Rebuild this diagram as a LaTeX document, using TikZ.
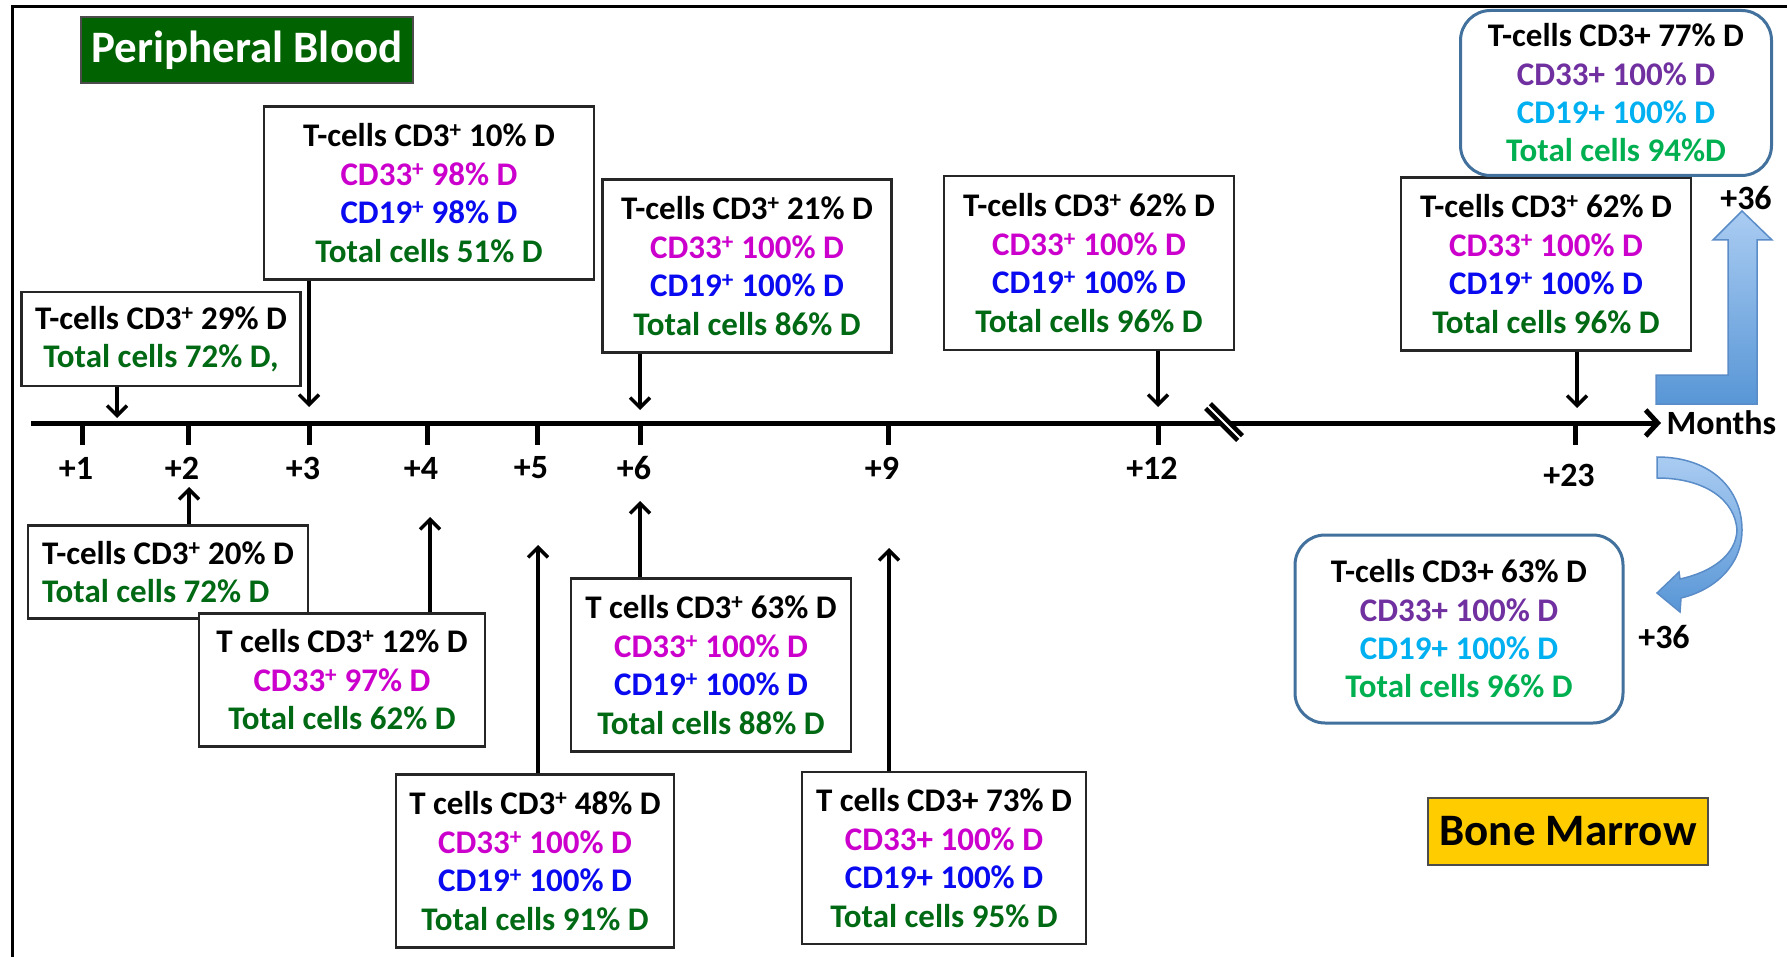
\documentclass[tikz,border=0pt]{standalone}
\usepackage{fontspec}
\setmainfont{Carlito}
\usetikzlibrary{positioning}
\usetikzlibrary{arrows.meta}
\definecolor{cdmag}{RGB}{204,0,204}
\definecolor{cdblu}{RGB}{10,10,240}
\definecolor{cdgrn}{RGB}{0,105,20}
\definecolor{cdpur}{RGB}{112,48,160}
\definecolor{cdcya}{RGB}{0,176,240}
\definecolor{cdlgr}{RGB}{0,176,80}
\definecolor{bmline}{RGB}{65,113,156}
\definecolor{pbfill}{RGB}{0,98,0}
\definecolor{bmfill}{RGB}{255,204,0}
\definecolor{arrtop}{RGB}{170,204,242}
\definecolor{arrbot}{RGB}{88,150,214}
\definecolor{arrline}{RGB}{90,140,200}
\tikzset{
    cellbox/.style = {rectangle, draw=black!85, line width=2.5pt, fill=white, inner sep=0pt, align=center, font=\fontsize{33}{38.5}\selectfont\bfseries},
    bmbox/.style = {rectangle, rounded corners=30pt, draw=bmline, line width=3pt, fill=white, inner sep=0pt, align=center, font=\fontsize{33}{38.3}\selectfont\bfseries},
    tagbox/.style = {rectangle, draw=black!70, line width=2pt, inner sep=0pt, font=\fontsize{45}{50}\selectfont\bfseries},
    ptr/.style = {line width=3.5pt, -{Straight Barb[length=10pt,width=20pt]}},
    timeaxis/.style = {line width=5pt, -{Straight Barb[length=12pt,width=26pt]}},
    tickmark/.style = {line width=5pt},
    ticklbl/.style = {font=\fontsize{34}{38}\selectfont\bfseries},
    blockarr/.style = {top color=arrtop, bottom color=arrbot, draw=arrline, line width=1.5pt}
}
\newcommand{\pl}{\textsuperscript{+}}
\newcommand{\cMag}[1]{\textcolor{cdmag}{#1}}
\newcommand{\cBlu}[1]{\textcolor{cdblu}{#1}}
\newcommand{\cGrn}[1]{\textcolor{cdgrn}{#1}}
\newcommand{\cPur}[1]{\textcolor{cdpur}{#1}}
\newcommand{\cCya}[1]{\textcolor{cdcya}{#1}}
\newcommand{\cLgr}[1]{\textcolor{cdlgr}{#1}}
\begin{document}
\begin{tikzpicture}[x=1pt,y=-1pt]
\useasboundingbox (0,0) rectangle (1787,957);
\draw[line width=3pt] (12,957) -- (12,7) -- (1787,7);
% time axis
\coordinate (ax0) at (31,423);
\coordinate (ax1) at (1661,423);
\draw[timeaxis] (ax0) -- (ax1);
\node[ticklbl, anchor=west] at (1663,423) (months) {Months};
\foreach \x/\m/\y in {82/1/468, 188/2/468, 309/3/468, 427/4/468, 537/5/468, 640/6/468, 888/9/468, 1158/12/468, 1575/23/475}
{
    \draw[tickmark] (\x,423) -- (\x,445);
    \node[ticklbl] at (\x-6,\y) (lbl\m) {+\m};
}
\draw[line width=11pt] (1208,406) -- (1240,438);
\draw[white, line width=2pt] (1206,404) -- (1242,440);
% titles
\node[tagbox, fill=pbfill, text=white, minimum width=332, minimum height=66] at (247,50) (pblood) {Peripheral Blood};
\node[tagbox, fill=bmfill, minimum width=280, minimum height=67] at (1568,831) (bmarrow) {Bone Marrow};
% peripheral blood, above axis
\node[cellbox, minimum width=279, minimum height=94] at (161,339) (pb1) {T-cells CD3\pl{} 29\% D\\ \cGrn{Total cells 72\% D,}};
\node[cellbox, minimum width=330, minimum height=173] at (429,193) (pb3) {T-cells CD3\pl{} 10\% D\\ \cMag{CD33\pl{} 98\% D}\\ \cBlu{CD19\pl{} 98\% D}\\ \cGrn{Total cells 51\% D}};
\node[cellbox, minimum width=289, minimum height=173] at (747,266) (pb6) {T-cells CD3\pl{} 21\% D\\ \cMag{CD33\pl{} 100\% D}\\ \cBlu{CD19\pl{} 100\% D}\\ \cGrn{Total cells 86\% D}};
\node[cellbox, minimum width=290, minimum height=174] at (1089,263) (pb12) {T-cells CD3\pl{} 62\% D\\ \cMag{CD33\pl{} 100\% D}\\ \cBlu{CD19\pl{} 100\% D}\\ \cGrn{Total cells 96\% D}};
\node[cellbox, minimum width=290, minimum height=173] at (1546,264) (pb23) {T-cells CD3\pl{} 62\% D\\ \cMag{CD33\pl{} 100\% D}\\ \cBlu{CD19\pl{} 100\% D}\\ \cGrn{Total cells 96\% D}};
% peripheral blood, below axis
\node[cellbox, align=left, minimum width=280, minimum height=93] at (168,572) (pb2) {T-cells CD3\pl{} 20\% D\\ \cGrn{Total cells 72\% D}};
\node[cellbox, minimum width=286, minimum height=133] at (342,680) (pb4) {T cells CD3\pl{} 12\% D\\ \cMag{CD33\pl{} 97\% D}\\ \cGrn{Total cells 62\% D}};
\node[cellbox, minimum width=278, minimum height=173] at (535,861) (pb5) {T cells CD3\pl{} 48\% D\\ \cMag{CD33\pl{} 100\% D}\\ \cBlu{CD19\pl{} 100\% D}\\ \cGrn{Total cells 91\% D}};
\node[cellbox, minimum width=280, minimum height=173] at (711,665) (pb6b) {T cells CD3\pl{} 63\% D\\ \cMag{CD33\pl{} 100\% D}\\ \cBlu{CD19\pl{} 100\% D}\\ \cGrn{Total cells 88\% D}};
\node[cellbox, minimum width=284, minimum height=172] at (944,858) (pb9) {T cells CD3+ 73\% D\\ \cMag{CD33+ 100\% D}\\ \cBlu{CD19+ 100\% D}\\ \cGrn{Total cells 95\% D}};
% bone marrow
\node[bmbox, minimum width=311, minimum height=165] at (1616,93) (bm36a) {T-cells CD3+ 77\% D\\ \cPur{CD33+ 100\% D}\\ \cCya{CD19+ 100\% D}\\ \cLgr{Total cells 94\%D}};
\node[bmbox, minimum width=328, minimum height=188] at (1459,629) (bm36b) {T-cells CD3+ 63\% D\\ \cPur{CD33+ 100\% D}\\ \cCya{CD19+ 100\% D}\\ \cLgr{Total cells 96\% D}};
\node[ticklbl] at (1746,198) (m36a) {+36};
\node[ticklbl] at (1664,637) (m36b) {+36};
% pointers
\coordinate (t1) at (117,418);
\coordinate (t3) at (309,407);
\coordinate (t6) at (640,410);
\coordinate (t12) at (1158,407);
\coordinate (t23) at (1577,408);
\coordinate (b2) at (189,487);
\coordinate (b4) at (430,517);
\coordinate (b5) at (538,545);
\coordinate (b6) at (640,501);
\coordinate (b9) at (889,548);
\draw[ptr] (pb1.south -| t1) -- (t1);
\draw[ptr] (pb3.south -| t3) -- (t3);
\draw[ptr] (pb6.south -| t6) -- (t6);
\draw[ptr] (pb12.south -| t12) -- (t12);
\draw[ptr] (pb23.south -| t23) -- (t23);
\draw[ptr] (pb2.north -| b2) -- (b2);
\draw[ptr] (pb4.north -| b4) -- (b4);
\draw[ptr] (pb5.north -| b5) -- (b5);
\draw[ptr] (pb6b.north -| b6) -- (b6);
\draw[ptr] (pb9.north -| b9) -- (b9);
% block arrows
\path[blockarr] (1656,375) -- (1728,375) -- (1728,240) -- (1713,240) -- (1742,211) -- (1772,240) -- (1757,240) -- (1757,404) -- (1656,404) -- cycle;
\path[blockarr] (1657,457) .. controls (1712,457) and (1742,490) .. (1742,530)
    .. controls (1742,565) and (1715,590) .. (1681,598) -- (1680,612) -- (1657,593) -- (1679,572) -- (1680,579)
    .. controls (1712,572) and (1736,555) .. (1737,530)
    .. controls (1735,500) and (1705,478) .. (1657,478) -- cycle;
\end{tikzpicture}
\end{document}
